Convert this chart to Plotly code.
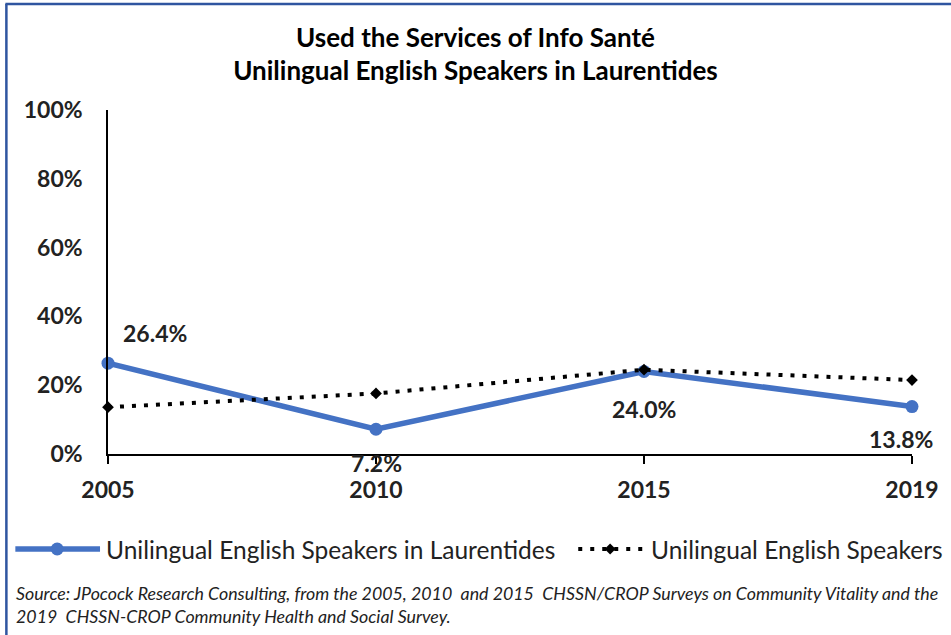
import plotly.graph_objects as go

years = ["2005", "2010", "2015", "2019"]
series_names = ["Unilingual English Speakers in Laurentides", "Unilingual English Speakers"]
laurentides = [0.264, 0.072, 0.240, 0.138]
all_unilingual = [0.136, 0.176, 0.245, 0.215]
label_text = ["26.4%", "7.2%", "24.0%", "13.8%"]
y_ticks = [0, 0.2, 0.4, 0.6, 0.8, 1.0]
y_tick_labels = ["0%", "20%", "40%", "60%", "80%", "100%"]

W, H = 951, 635
L, R, T, B = 108, 36, 110, 181
pw = W - L - R
ph = H - T - B

def px(xp):
    return (xp - L) / pw

def py(yp):
    return (H - B - yp) / ph

FONT = "Lato, 'Open Sans', sans-serif"
BLUE = "#4472C4"
BLUE_W, DOT_W, DOT_DASH = 5.5, 4, "4px,8px"

fig = go.Figure()
fig.add_trace(go.Scatter(
    x=years, y=laurentides, mode="lines+markers", name=series_names[0],
    line=dict(color=BLUE, width=BLUE_W),
    marker=dict(color=BLUE, size=13, symbol="circle"),
    cliponaxis=False,
))
fig.add_trace(go.Scatter(
    x=years, y=all_unilingual, mode="lines+markers", name=series_names[1],
    line=dict(color="black", width=DOT_W, dash=DOT_DASH),
    marker=dict(color="black", size=9, symbol="diamond"),
    cliponaxis=False,
))

offsets = [(47, 30), (0, -34), (0, -38), (-11, -32)]
for i, (yv, t, (dx, dy)) in enumerate(zip(laurentides, label_text, offsets)):
    fig.add_annotation(x=i, y=yv, xref="x", yref="y", text=t, showarrow=False,
                       xshift=dx, yshift=dy,
                       font=dict(family=FONT, size=23, color="#222", weight="bold"))

# legend (drawn manually to match the long legend keys)
LY = 549
fig.add_shape(type="line", xref="paper", yref="paper",
              x0=px(15), x1=px(100), y0=py(LY), y1=py(LY),
              line=dict(color=BLUE, width=BLUE_W))
fig.add_shape(type="circle", xref="paper", yref="paper",
              x0=px(57 - 6.5), x1=px(57 + 6.5), y0=py(LY + 6.5), y1=py(LY - 6.5),
              fillcolor=BLUE, line=dict(color=BLUE, width=0))
fig.add_annotation(xref="paper", yref="paper", x=px(104), y=py(LY), xanchor="left",
                   yanchor="middle", showarrow=False, text=series_names[0],
                   font=dict(family=FONT, size=24.5, color="#222"))
fig.add_shape(type="line", xref="paper", yref="paper",
              x0=px(580), x1=px(645), y0=py(LY), y1=py(LY),
              line=dict(color="black", width=DOT_W, dash=DOT_DASH))
cx, cy, d = 612, LY, 5.5
fig.add_shape(type="path", xref="paper", yref="paper",
              path=(f"M{px(cx - d)},{py(cy)} L{px(cx)},{py(cy - d)} "
                    f"L{px(cx + d)},{py(cy)} L{px(cx)},{py(cy + d)} Z"),
              fillcolor="black", line=dict(color="black", width=0))
fig.add_annotation(xref="paper", yref="paper", x=px(651), y=py(LY), xanchor="left",
                   yanchor="middle", showarrow=False, text=series_names[1],
                   font=dict(family=FONT, size=24.5, color="#222"))

fig.add_annotation(
    xref="paper", yref="paper", x=px(14), y=py(604), xanchor="left", yanchor="middle",
    align="left", showarrow=False,
    text=("Source: JPocock Research Consulting, from the 2005, 2010  and 2015  CHSSN/CROP Surveys on Community Vitality and the"
          "<br>2019  CHSSN-CROP Community Health and Social Survey."),
    font=dict(family=FONT, size=17.8, color="#222", style="italic"),
)

fig.add_shape(type="line", xref="paper", yref="paper",
              x0=px(6), x1=px(6), y0=py(4), y1=py(640),
              line=dict(color="#2F55A0", width=2.5))
fig.add_shape(type="line", xref="paper", yref="paper",
              x0=px(5), x1=px(960), y0=py(4), y1=py(4),
              line=dict(color="#2F55A0", width=2.5))

fig.update_layout(
    width=W, height=H,
    margin=dict(l=L, r=R, t=T, b=B),
    paper_bgcolor="white", plot_bgcolor="white",
    title=dict(
        text="Used the Services of Info Santé<br>Unilingual English Speakers in Laurentides",
        x=0.5, xref="container", xanchor="center", y=1 - 46.5 / H, yanchor="middle",
        font=dict(family=FONT, size=26, color="black", weight="bold"),
    ),
    showlegend=False,
    font=dict(family=FONT, color="black"),
)
fig.update_xaxes(
    type="category", range=[0, 3], showline=True, linecolor="black", linewidth=1.5,
    ticks="outside", ticklen=8, tickcolor="black", tickwidth=1.5,
    showgrid=False, zeroline=False,
    tickfont=dict(family=FONT, size=23, color="#222", weight="bold"),
    ticklabelstandoff=7,
)
fig.update_yaxes(
    range=[0, 1], tickvals=y_ticks, ticktext=y_tick_labels,
    showline=True, linecolor="black", linewidth=1.5,
    showgrid=False, zeroline=False, ticks="",
    tickfont=dict(family=FONT, size=23, color="#222", weight="bold"),
    ticklabelstandoff=19,
)

fig.write_html("out.html", config={"displayModeBar": False},
               post_script="document.body.style.margin='0';")
